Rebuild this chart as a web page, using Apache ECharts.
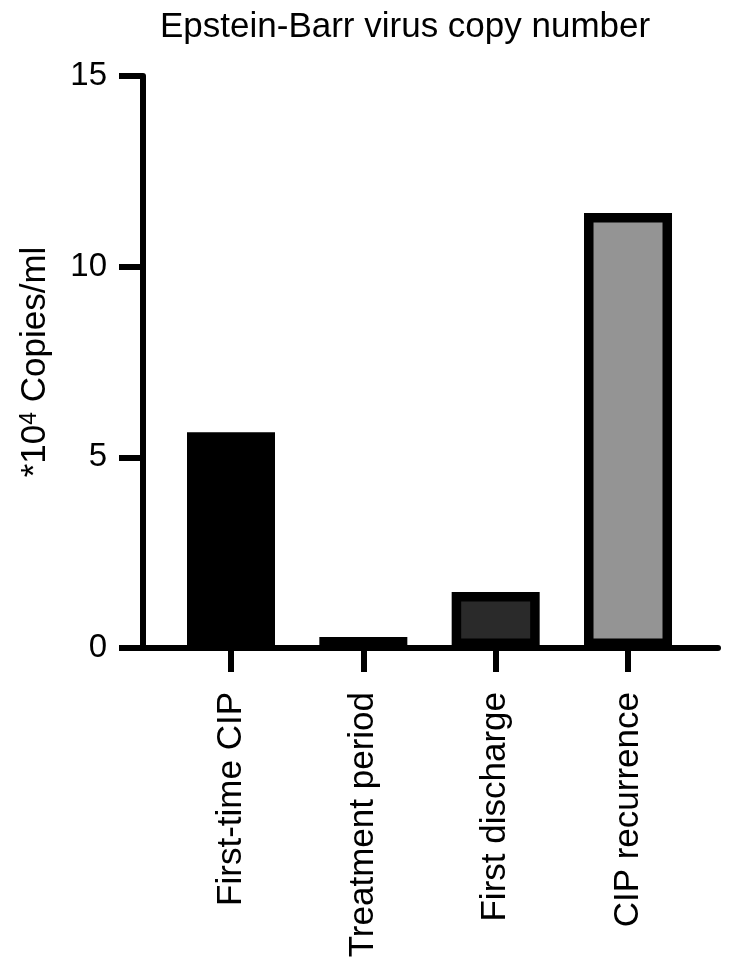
<!DOCTYPE html>
<html>
<head>
<meta charset="utf-8">
<script src="https://cdn.jsdelivr.net/npm/echarts@6/dist/echarts.min.js"></script>
<style>html,body{margin:0;padding:0;background:#fff}#chart{width:732px;height:968px}</style>
</head>
<body>
<div id="chart"></div>
<script>
const categories = ['First-time CIP', 'Treatment period', 'First discharge', 'CIP recurrence'];
const copies = [5.66, 0.29, 1.47, 11.41];
const yTicks = [0, 5, 10, 15];
const fillColors = ['#000000', '#000000', '#2a2a2a', '#949494'];

const FONT = '"Liberation Sans", Arial, Helvetica, sans-serif';
const chart = echarts.init(document.getElementById('chart'), null, {renderer: 'canvas'});
const positions = categories.map((c, i) => i);

chart.setOption({
  backgroundColor: '#ffffff',
  animation: false,
  title: {
    text: 'Epstein-Barr virus copy number',
    left: 160, top: 10, padding: 0,
    textStyle: {fontFamily: FONT, fontSize: 35, fontWeight: 'normal', color: '#000'}
  },
  grid: {left: 143, right: 14, top: 76, bottom: 320, containLabel: false},
  xAxis: {
    type: 'value',
    min: -0.665, max: 3.68,
    axisLine: {show: true, lineStyle: {color: '#000', width: 6}},
    axisTick: {show: true, customValues: positions, length: 24, lineStyle: {color: '#000', width: 6}},
    axisLabel: {
      show: true, customValues: positions, rotate: 90, margin: 44,
      fontFamily: FONT, fontSize: 35, color: '#000',
      formatter: v => categories[Math.round(v)] || ''
    },
    splitLine: {show: false}
  },
  yAxis: {
    type: 'value',
    min: yTicks[0], max: yTicks[yTicks.length - 1], interval: 5,
    name: '*10{sup|4} Copies/ml',
    nameLocation: 'middle', nameRotate: 90, nameGap: 90,
    nameTextStyle: {
      fontFamily: FONT, fontSize: 35, color: '#000',
      rich: {sup: {fontFamily: FONT, fontSize: 23, color: '#000', verticalAlign: 'top', lineHeight: 35}}
    },
    axisLine: {show: true, onZero: false, lineStyle: {color: '#000', width: 6}},
    axisTick: {show: true, length: 24, lineStyle: {color: '#000', width: 6}},
    axisLabel: {margin: 36, fontFamily: FONT, fontSize: 33, color: '#000'},
    splitLine: {show: false}
  },
  series: [{
    type: 'bar',
    barWidth: 88,
    data: copies.map((v, i) => ({
      value: [positions[i], v],
      itemStyle: {color: fillColors[i], borderColor: '#000', borderWidth: 9.5}
    }))
  }]
});
</script>
</body>
</html>
